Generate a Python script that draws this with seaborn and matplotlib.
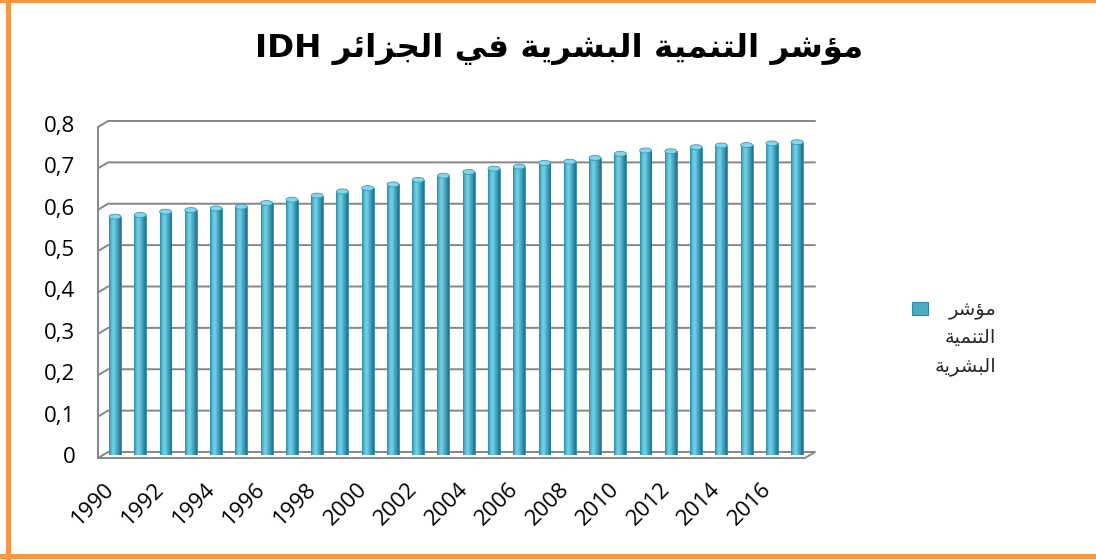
import unicodedata
import numpy as np
import pandas as pd
import matplotlib
matplotlib.use("Agg")
import matplotlib.pyplot as plt
import seaborn as sns
from matplotlib.colors import LinearSegmentedColormap
from matplotlib.patches import Ellipse, Patch, Rectangle
from matplotlib.lines import Line2D
from matplotlib.legend_handler import HandlerPatch
from matplotlib.transforms import ScaledTranslation

# ---------------- data ----------------
years = list(range(1990, 2018))
hdi = [0.576, 0.580, 0.588, 0.592, 0.596, 0.600, 0.609, 0.617, 0.627, 0.637,
       0.645, 0.654, 0.665, 0.675, 0.684, 0.692, 0.697, 0.706, 0.709, 0.718,
       0.728, 0.736, 0.734, 0.744, 0.748, 0.749, 0.753, 0.756]
y_ticks = [0.0, 0.1, 0.2, 0.3, 0.4, 0.5, 0.6, 0.7, 0.8]
y_tick_labels = ["0", "0,1", "0,2", "0,3", "0,4", "0,5", "0,6", "0,7", "0,8"]
x_tick_years = years[::2]
title_text = "مؤشر التنمية البشرية في الجزائر IDH"
series_name = "مؤشر التنمية البشرية"

# ---------------- arabic shaping (matplotlib has no complex text layout) ----
RIGHT_JOIN = set("اأإآدذرزوؤة")


def _is_ar(ch):
    return "\u0621" <= ch <= "\u064A"


def _dual(ch):
    return _is_ar(ch) and ch not in RIGHT_JOIN and ch != "ء"


def _form(ch, form):
    try:
        return unicodedata.lookup(unicodedata.name(ch) + " " + form + " FORM")
    except KeyError:
        return ch


def shape_ar(text):
    out = []
    for i, ch in enumerate(text):
        if not _is_ar(ch):
            out.append(ch)
            continue
        prev = text[i - 1] if i > 0 else ""
        nxt = text[i + 1] if i + 1 < len(text) else ""
        jp = bool(prev) and _dual(prev)
        jn = _dual(ch) and bool(nxt) and _is_ar(nxt)
        form = ("MEDIAL" if (jp and jn) else "FINAL" if jp
                else "INITIAL" if jn else "ISOLATED")
        out.append(_form(ch, form))
    rev = out[::-1]
    res, run = [], []
    for ch in rev:
        if ch.isascii() and ch.isalnum():
            run.append(ch)
        else:
            if run:
                res.extend(run[::-1])
                run = []
            res.append(ch)
    if run:
        res.extend(run[::-1])
    return "".join(res)


# ---------------- figure ----------------
sns.set_theme(style="white")
plt.rcParams["font.family"] = ["Open Sans", "DejaVu Sans"]

W, H = 1096, 560
fig = plt.figure(figsize=(W / 100, H / 100), dpi=100)
fig.patch.set_facecolor("white")

ax_l, ax_b, ax_w, ax_h = 103, 105, 707, 331
ax = fig.add_axes([ax_l / W, ax_b / H, ax_w / W, ax_h / H])
ax.set_facecolor("none")

df = pd.DataFrame({"year": [str(y) for y in years], "value": hdi})
sns.barplot(data=df, x="year", y="value", color="#4BACC6", width=0.47,
            saturation=1, ax=ax, edgecolor="#2F8AA3", linewidth=0.6, zorder=2)

bars = list(ax.patches)
cmap = LinearSegmentedColormap.from_list(
    "cyl", ["#2A87A2", "#5BC0D9", "#7AD2E6", "#4EB4CD", "#3594AF", "#216F87"])
grad = np.linspace(0, 1, 64).reshape(1, -1)
cap_h = 5 / (ax_h / 0.8)
for bar in bars:
    x0, w, h = bar.get_x(), bar.get_width(), bar.get_height()
    im = ax.imshow(grad, extent=[x0, x0 + w, 0, h], aspect="auto", cmap=cmap,
                   zorder=2.1, interpolation="bicubic")
    im.set_clip_path(bar)
    ax.add_patch(Ellipse((x0 + w / 2, h), width=w, height=cap_h,
                         facecolor="#86D5E8", edgecolor="#3A9AB5",
                         linewidth=0.6, zorder=2.2))

ax.set_xlim(-0.475, 27.51)
ax.set_ylim(0, 0.8)

# 3-D style walls / gridlines
dxa, dya = 5 / ax_w, 3 / ax_h
gc, glw = "#868686", 1.4
for t in y_ticks[1:]:
    ya = t / 0.8
    ax.plot([-dxa, dxa, 1 + dxa], [ya - dya, ya + dya, ya + dya],
            transform=ax.transAxes, color=gc, lw=glw, clip_on=False, zorder=0.5)
ax.plot([-dxa, 1 - dxa, 1 + dxa, dxa, -dxa], [-dya, -dya, dya, dya, -dya],
        transform=ax.transAxes, color=gc, lw=glw, clip_on=False, zorder=0.5)
ax.plot([-dxa, -dxa], [-dya, 1 - dya], transform=ax.transAxes, color=gc,
        lw=glw, clip_on=False, zorder=0.5)

for s in ax.spines.values():
    s.set_visible(False)
ax.grid(False)
ax.set_xlabel("")
ax.set_ylabel("")

ax.set_yticks(y_ticks, y_tick_labels)
ax.tick_params(axis="y", length=0, pad=20, labelsize=16, labelcolor="black")
xt = [years.index(y) for y in x_tick_years]
ax.set_xticks(xt, [str(y) for y in x_tick_years])
ax.tick_params(axis="x", length=0, pad=22, labelsize=16, labelcolor="black")
shift = ScaledTranslation(-4 / 100, 0, fig.dpi_scale_trans)
for lab in ax.get_xticklabels():
    lab.set_rotation(45)
    lab.set_ha("right")
    lab.set_va("center")
    lab.set_rotation_mode("anchor")
    lab.set_transform(lab.get_transform() + shift)

# title
fig.text(559 / W, 1 - 49 / H, shape_ar(title_text), ha="center", va="center",
         fontsize=23.4, fontweight="bold", family=["DejaVu Sans"], color="black")

# legend (marker aligned with the first text line)
LEG_FS = 14
LINE_SP = 1.58


def _top_patch(legend, orig_handle, xdescent, ydescent, width, height, fontsize):
    return Rectangle((-xdescent, -ydescent + 21.5), width, height)


label = "\n".join(shape_ar(w) for w in series_name.split(" "))
handle = Patch(facecolor="#4BACC6", edgecolor="#2F8AA3", linewidth=0.8)
leg = ax.legend([handle], [label], loc="upper left",
                bbox_to_anchor=(894 / W, 1 - 283 / H),
                bbox_transform=fig.transFigure, frameon=False,
                handlelength=0.87, handleheight=0.67, handletextpad=0.3,
                handler_map={Patch: HandlerPatch(patch_func=_top_patch)},
                prop={"family": ["DejaVu Sans"], "size": LEG_FS})
for t in leg.get_texts():
    t.set_multialignment("right")
    t.set_linespacing(LINE_SP)

# orange frame
oc = "#F79646"
fig.add_artist(Line2D([7.5 / W, 7.5 / W], [0, 1], transform=fig.transFigure,
                      color=oc, lw=3.6))
fig.add_artist(Line2D([0, 1], [1 - 1.0 / H, 1 - 1.0 / H],
                      transform=fig.transFigure, color=oc, lw=3.0))
fig.add_artist(Line2D([0, 1], [1 - 555.5 / H, 1 - 555.5 / H],
                      transform=fig.transFigure, color=oc, lw=3.6))

fig.savefig("out.png", dpi=100)
